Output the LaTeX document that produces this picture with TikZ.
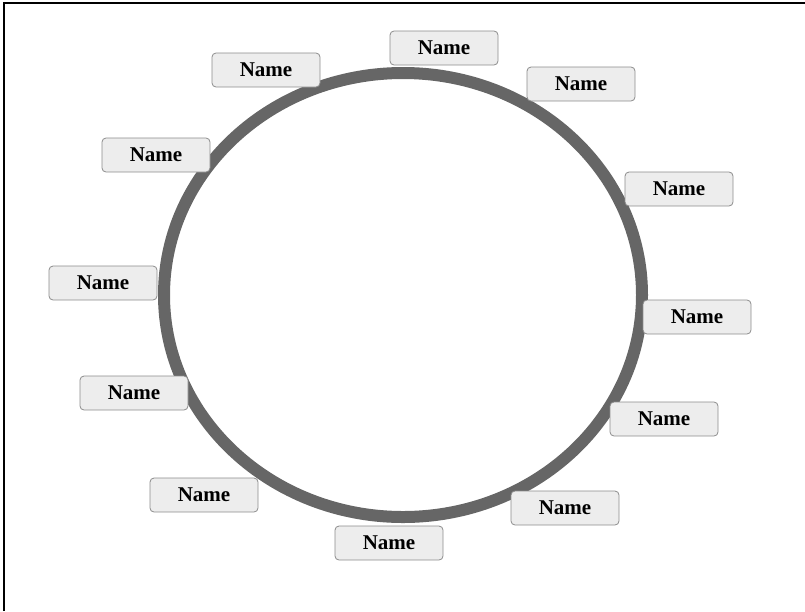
\documentclass[tikz,border=0pt]{standalone}
\usepackage{fontspec}
\setmainfont{Liberation Serif}
\begin{document}
\begin{tikzpicture}[x=1pt,y=-1pt,
  namebox/.style={draw=black!45, line width=0.8pt, fill=black!7, rounded corners=4pt,
    minimum width=108pt, minimum height=34pt, inner sep=0pt,
    font=\fontsize{21}{22}\selectfont\bfseries},
  ring/.style={draw=black!60, line width=12pt}]
\useasboundingbox (0,0) rectangle (805,611);
\coordinate (fbl) at (4,611);
\coordinate (ftl) at (4,3);
\coordinate (ftr) at (805,3);
\draw[line width=2pt, black] (fbl) -- (ftl) -- (ftr);
\coordinate (c) at (403,295);
\draw[ring] (c) ellipse [x radius=239, y radius=222];
\node[namebox] (n1) at (444,48) {Name};
\node[namebox] (n2) at (266,70) {Name};
\node[namebox] (n3) at (581,84) {Name};
\node[namebox] (n4) at (156,155) {Name};
\node[namebox] (n5) at (679,189) {Name};
\node[namebox] (n6) at (103,283) {Name};
\node[namebox] (n7) at (697,317) {Name};
\node[namebox] (n8) at (134,393) {Name};
\node[namebox] (n9) at (664,419) {Name};
\node[namebox] (n10) at (204,495) {Name};
\node[namebox] (n11) at (565,508) {Name};
\node[namebox] (n12) at (389,543) {Name};
\end{tikzpicture}
\end{document}
